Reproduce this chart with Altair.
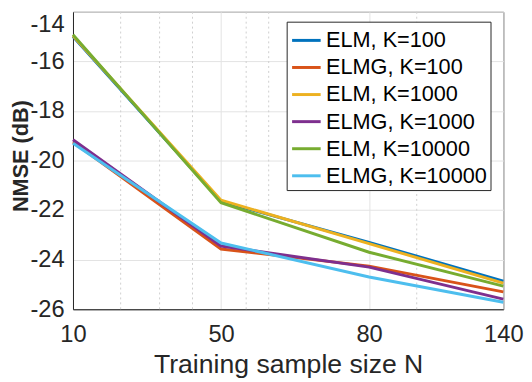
import altair as alt
import pandas as pd

# Tick labels of the training sample size and their positions on the (log) axis as drawn
n_labels = ["10", "50", "80", "140"]
x_pos = [4, 8, 16, 30]
minor_grid = [5, 6, 7, 9, 10, 20]
y_ticks = [-26, -24, -22, -20, -18, -16, -14]

series = ["ELM, K=100", "ELMG, K=100", "ELM, K=1000",
          "ELMG, K=1000", "ELM, K=10000", "ELMG, K=10000"]
colors = ["#0072BD", "#D95319", "#EDB120", "#7E2F8E", "#77AC30", "#4DBEEE"]

elm_100 = [-15.00, -21.65, -23.30, -24.87]
elmg_100 = [-19.25, -23.57, -24.26, -25.30]
elm_1000 = [-14.97, -21.60, -23.35, -24.95]
elmg_1000 = [-19.16, -23.45, -24.30, -25.59]
elm_10000 = [-14.92, -21.70, -23.70, -25.07]
elmg_10000 = [-19.30, -23.33, -24.70, -25.72]
all_values = [elm_100, elmg_100, elm_1000, elmg_1000, elm_10000, elmg_10000]

rows = []
for name, vals in zip(series, all_values):
    for xp, v in zip(x_pos, vals):
        rows.append({"series": name, "x": xp, "nmse": v})
df = pd.DataFrame(rows)

FONT = "Liberation Sans"
TXT = "#262626"

xscale = alt.Scale(type="log", domain=[x_pos[0], x_pos[-1]], nice=False)
yscale = alt.Scale(domain=[-26, -14], nice=False)

label_expr = ("[" + ",".join(f"'{l}'" for l in n_labels) + "][indexof(["
              + ",".join(str(p) for p in x_pos) + "], datum.value)]")

xaxis = alt.Axis(values=x_pos, labelExpr=label_expr, title="Training sample size N",
                 titleFont=FONT, titleFontSize=27, titleFontWeight="normal", titleColor=TXT,
                 titleY=64, titleBaseline="alphabetic",
                 labelFont=FONT, labelFontSize=24, labelColor=TXT, labelPadding=14,
                 labelFlush=False, ticks=False, domainColor=TXT, gridColor="#e3e3e3")

yaxis = alt.Axis(values=y_ticks, labelExpr="'' + datum.value", title="NMSE (dB)",
                 titleFont=FONT, titleFontSize=22, titleFontWeight="bold", titleColor=TXT,
                 titleAngle=270, titleX=-53, titleY=146, titleAlign="center",
                 titleBaseline="middle",
                 labelFont=FONT, labelFontSize=24, labelColor=TXT, labelPadding=9,
                 labelFlush=False, ticks=False, domainColor=TXT, gridColor="#e3e3e3",
                 labelOffset={"condition": {"test": "datum.value == -14", "value": 13}, "value": 0})

minor = alt.Chart(pd.DataFrame({"x": minor_grid})).mark_rule(
    color="#cfcfcf", strokeDash=[2, 3], strokeWidth=1
).encode(x=alt.X("x:Q", scale=xscale, axis=xaxis))

lines = alt.Chart(df).mark_line(strokeWidth=3).encode(
    x=alt.X("x:Q", scale=xscale, axis=xaxis),
    y=alt.Y("nmse:Q", scale=yscale, axis=yaxis),
    color=alt.Color("series:N", scale=alt.Scale(domain=series, range=colors),
                    sort=series,
                    legend=alt.Legend(orient="none", legendX=217, legendY=10, title=None,
                                      symbolType="stroke", symbolStrokeWidth=3,
                                      symbolSize=841, symbolOffset=1,
                                      labelFont=FONT, labelFontSize=22,
                                      labelExpr="datum.label + ' '",
                                      labelColor="black", labelLimit=400, labelOffset=4,
                                      strokeColor=TXT, fillColor="white", padding=3,
                                      rowPadding=0.5)),
    order=alt.Order("series_idx:Q"),
).transform_calculate(
    series_idx="indexof(" + "[" + ",".join(f"'{s}'" for s in series) + "], datum.series)"
)

chart = alt.layer(minor, lines).properties(
    width=437, height=302,
    autosize=alt.AutoSizeParams(type="none"),
    padding={"left": 66, "top": 1, "right": 21, "bottom": 71},
).configure_view(stroke=TXT, strokeWidth=1)

chart.save("out.html", embed_options={"renderer": "svg", "actions": False})
